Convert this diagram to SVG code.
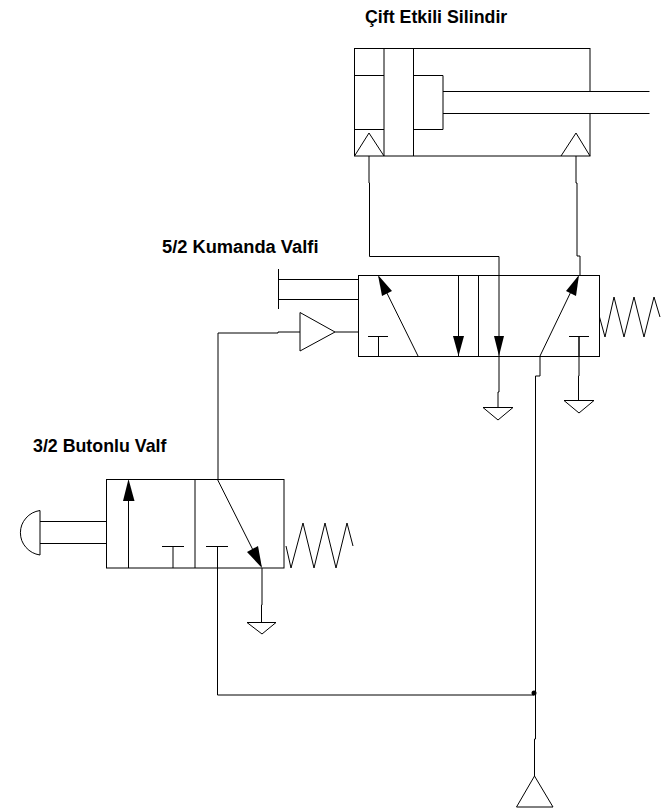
<svg xmlns="http://www.w3.org/2000/svg" width="665" height="811" viewBox="0 0 665 811">
<style>
.l{fill:none;stroke:#000;stroke-width:1;shape-rendering:auto}
.h{fill:#000;stroke:none}
text{font-family:"Liberation Sans",Arial,sans-serif;font-weight:bold;font-size:17.8px;fill:#000}
</style>
<rect width="665" height="811" fill="#fff"/>
<g id="connectors">
<path class="l" d="M369 156V183H369.500V256.500H499V275"/>
<path class="l" d="M576 156V183H577V256H580V275"/>
<path class="l" d="M499 356V392H498V407"/>
<path class="l" d="M579 336V376H578.500V400"/>
<path class="l" d="M540 356V376H535.500V739H534.500V776"/>
<path class="l" d="M300 332H278V333H218V479"/>
<path class="l" d="M335 332H358"/>
<path class="l" d="M262 568V605H261.500V622"/>
<path class="l" d="M217.500 568V695H534"/>
<circle class="h" cx="534" cy="693" r="2.500"/>
</g>
<g id="cylinder">
<rect class="l" x="354.500" y="48.500" width="235.500" height="107.500"/>
<path class="l" d="M384 48.500V156M413.500 48.500V156M354.500 75.500H384M354.500 129.500H384M413.500 75.500H443V129.500H413.500"/>
<path d="M590 91.500V113" stroke="#fff" stroke-width="2" fill="none"/>
<path class="l" d="M443 91.500H649.500M443 113.500H649.500"/>
<path class="l" d="M354.500 156L369 133L384 156"/>
<path class="l" d="M561 156L576 133L590 156"/>
<text x="365" y="23">Çift Etkili Silindir</text>
</g>
<g id="valve-5-2">
<rect class="l" x="358.500" y="275.500" width="241" height="81"/>
<path class="l" d="M478.500 275.500V356.500"/>
<path class="l" d="M418 356L379 277"/>
<path class="h" d="M378 275L392 291L382 296Z"/>
<path class="l" d="M458.500 275.500V356"/>
<path class="h" d="M458.500 356L453 336H464Z"/>
<path class="l" d="M499 275.500V356"/>
<path class="h" d="M499 356L494 336H504Z"/>
<path class="l" d="M540 356L578 277"/>
<path class="h" d="M579 275L566 291L576 296Z"/>
<path class="l" d="M378.500 356V336.500M368 336.500H388M579 356V336.500M569 336.500H589"/>
<path class="l" d="M278.500 269V309M278 279.500H358M278 299.500H358"/>
<path class="l" d="M300 312.500V351L335 332Z"/>
<path class="l" d="M599.500 317L605 337L614 297L624 337L634 297L644 337L654 297L660 317"/>
<path class="l" d="M483 407.500H513L498 420Z"/>
<path class="l" d="M564 400.500H594L579 413Z"/>
<path class="l" d="M516.500 807H553L534.500 776Z"/>
<text x="162" y="253" style="font-size:18.3px">5/2 Kumanda Valfi</text>
</g>
<g id="valve-3-2">
<rect class="l" x="106.500" y="479.500" width="177.500" height="88.500"/>
<path class="l" d="M195 479.500V568"/>
<path class="l" d="M128.500 568V481"/>
<path class="h" d="M128.500 479L123 501H134.500Z"/>
<path class="l" d="M173 568V546.500M162 546.500H184M217.500 568V546.500M206 546.500H228"/>
<path class="l" d="M217.500 479.500L261 566"/>
<path class="h" d="M262 568L247 552L258 546Z"/>
<path class="l" d="M286 546L291 568L303 523L314 568L325 523L336 568L347 523L353 546"/>
<path class="l" d="M40 510.500V555M40 510.500A23 22.500 0 0 0 40 555"/>
<path class="l" d="M40 521.500H106M40 543.500H106"/>
<path class="l" d="M247 622.500H276L262 634Z"/>
<text x="33" y="452">3/2 Butonlu Valf</text>
</g>
</svg>
